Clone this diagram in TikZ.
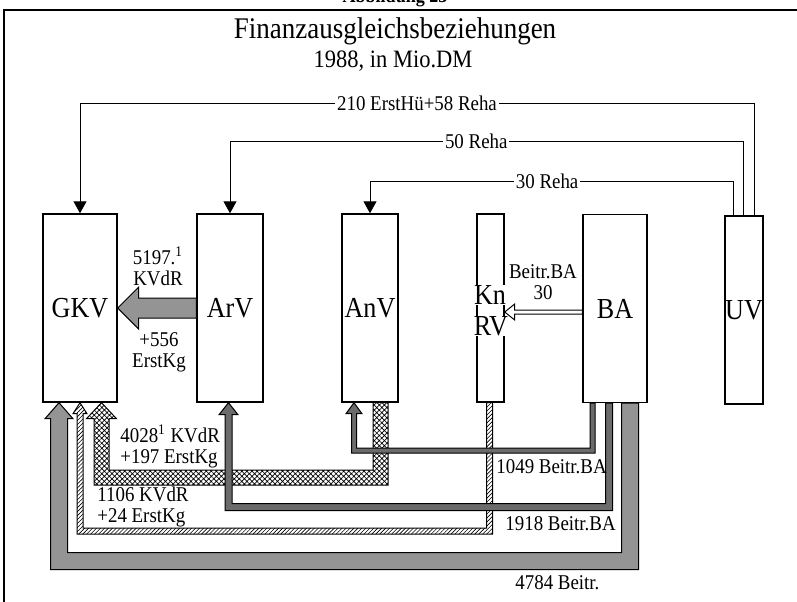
\documentclass[tikz,border=0pt]{standalone}
\usepackage{fontspec}
\setmainfont{Liberation Serif}[FakeStretch=0.9]
\usetikzlibrary{arrows.meta,calc,patterns.meta}

% bent band arrow: style, tip, source, run y, shaft, head width, head length
\newcommand{\bandarrow}[7]{%
  \coordinate (bt) at (#2);
  \coordinate (bs) at (#3);
  \coordinate (br) at (0,#4);
  \filldraw[#1] (bt) -- ++({#6/2},#7) -- ++({-(#6-#5)/2},0)
    -- ($(bt |- br)+({#5/2},{-#5/2})$) -- ($(bs |- br)+({-#5/2},{-#5/2})$)
    -- ($(bs)+({-#5/2},0)$) -- ($(bs)+({#5/2},0)$)
    -- ($(bs |- br)+({#5/2},{#5/2})$) -- ($(bt |- br)+({-#5/2},{#5/2})$)
    -- ($(bt)+({-#5/2},#7)$) -- ++({-(#6-#5)/2},0) -- cycle;}

\begin{document}
\begin{tikzpicture}[x=0.5pt, y=-0.5pt,
  kasse/.style={draw, line width=0.7pt, inner sep=0pt, minimum height=94pt, font=\fontsize{14.5}{17}\selectfont},
  kurz/.style={font=\fontsize{14.5}{17}\selectfont, fill=white, inner sep=0.3pt},
  lab/.style={font=\fontsize{10.5}{10.5}\selectfont, inner sep=1pt, align=center},
  link/.style={line width=0.5pt, -{Triangle[length=6pt,width=6.5pt]}},
  hell/.style={fill=black!42, draw=black, line width=0.5pt},
  dunkel/.style={fill=black!58, draw=black, line width=0.5pt},
  punkte/.style={pattern={Hatch[angle=45,distance=1.8pt,line width=0.35pt]}, draw=black, line width=0.5pt},
  zacken/.style={pattern={Lines[angle=45,distance=1.4pt,line width=0.3pt]}, draw=black, line width=0.5pt}]

\useasboundingbox (0,0) rectangle (797,601);
\draw[line width=1pt] (820,10) -- (4,10) -- (4,620);
\node[font=\bfseries\fontsize{10}{10}\selectfont, anchor=base] (abb) at (395,2) {Abbildung 23};
\node[font=\fontsize{15}{18}\selectfont, anchor=base] (titel) at (395,38) {Finanzausgleichsbeziehungen};
\node[font=\fontsize{12.5}{14}\selectfont, anchor=base] (jahr) at (393,67) {1988, in Mio.DM};

% Traeger
\node[kasse, minimum width=37pt] (GKV) at (80,308) {GKV};
\node[kasse, minimum width=33pt] (ArV) at (230,308) {ArV};
\node[kasse, minimum width=28pt] (AnV) at (370,308) {AnV};
\node[kasse, minimum width=13.5pt] (KnRV) at (490.5,308) {};
\node[kasse, minimum width=32pt] (BA) at (615,308.5) {BA};
\node[kasse, minimum width=19pt] (UV) at (744,310) {UV};
\node[kurz] (kn) at (490,295) {Kn};
\node[kurz] (rv) at (491,326) {RV};

% Leistungen der UV
\coordinate (h210) at (0,103);
\coordinate (h50) at (0,141);
\coordinate (h30) at (0,181);
\draw[link] ($(UV.north)+(10,0)$) |- node[lab, fill=white, pos=0.75] (l210) {210 ErstHü+58 Reha} (GKV.north |- h210) -- (GKV.north);
\draw[link] ($(UV.north)+(-1,0)$) |- node[lab, fill=white, pos=0.76] (l50) {50 Reha} (ArV.north |- h50) -- (ArV.north);
\draw[link] ($(UV.north)+(-11,0)$) |- node[lab, fill=white, pos=0.756] (l30r) {30 Reha} (AnV.north |- h30) -- (AnV.north);

% ArV -> GKV, BA -> KnRV
\filldraw[hell] (GKV.east) -- ++(21,-21) -- ++(0,11) -- ($(ArV.west)+(0,-10)$) -- ($(ArV.west)+(0,10)$) -- ($(GKV.east)+(21,10)$) -- ++(0,11) -- cycle;
\coordinate (kt) at ($(KnRV.east)+(0,4)$);
\filldraw[fill=white, draw=black, line width=0.5pt] (kt) -- ++(10,-8) -- ++(0,6) -- ($(BA.west |- kt)+(0,-2)$) -- ($(BA.west |- kt)+(0,2)$) -- ($(kt)+(10,2)$) -- ++(0,6) -- cycle;

% Beitraege unten
\bandarrow{zacken}{$(GKV.south)+(0,0)$}{$(KnRV.south)+(-1,0)$}{531}{6}{14}{11}
\bandarrow{punkte}{$(GKV.south)+(21.5,0)$}{$(AnV.south)+(10.5,0)$}{477.5}{15}{30}{16}
\bandarrow{hell}{$(GKV.south)+(-21,0)$}{$(BA.south)+(15,0)$}{561}{17}{28}{16}
\bandarrow{dunkel}{$(ArV.south)+(-1.5,0)$}{$(BA.south)+(-6,0)$}{507}{7}{19}{12}
\bandarrow{dunkel}{$(AnV.south)+(-16,0)$}{$(BA.south)+(-22.5,0)$}{450.5}{5}{16}{11}

\node[lab] (l5197) at (158,266) {5197.\textsuperscript{1}\\KVdR};
\node[lab] (l556) at (159,352) {+556\\ErstKg};
\node[lab] (lkn30) at (543,282) {Beitr.BA\\30};
\node[lab, align=left, anchor=west] (l4028) at (118,446) {4028\textsuperscript{1} KVdR\\+197 ErstKg};
\node[lab, align=left, anchor=west] (l1106) at (95,507) {1106 KVdR\\+24 ErstKg};
\node[lab, anchor=west] (l1049) at (494,467) {1049 Beitr.BA};
\node[lab, anchor=west] (l1918) at (503,524) {1918 Beitr.BA};
\node[lab, anchor=west] (l4784) at (513,583) {4784 Beitr.};
\end{tikzpicture}
\end{document}
